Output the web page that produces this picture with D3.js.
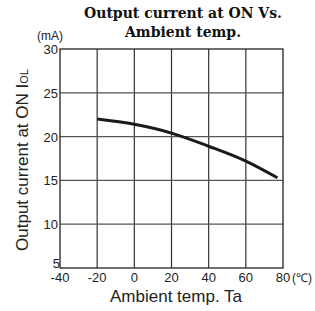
<!doctype html>
<html>
<head>
<script src="https://cdn.jsdelivr.net/npm/d3@7"></script>
<style>
  html, body { margin: 0; padding: 0; background: #fff; }
  svg { display: block; }
  .tick-label { font-family: "Liberation Sans", Arial, sans-serif; font-size: 13px; fill: #222; }
</style>
</head>
<body>
<div id="viz"></div>
<script>
// data
var temps = [-20, 0, 20, 40, 60, 77];
var currents = [22.0, 21.4, 20.4, 18.9, 17.2, 15.3];
var xTicks = [-40, -20, 0, 20, 40, 60, 80];
var yTicks = [5, 10, 15, 20, 25, 30];

var renderChart = function () {
    var w = 315, h = 311;
    var pLeft = 60, pRight = 283, pTop = 49, pBottom = 268;

    var svg = d3.select("#viz").append("svg")
        .attr("width", w)
        .attr("height", h);

    var x = d3.scaleLinear().domain([-40, 80]).range([pLeft, pRight]);
    var y = d3.scaleLinear().domain([5, 30]).range([pBottom, pTop]);

    // grid
    svg.selectAll("line.vgrid")
        .data(xTicks.slice(1, -1))
        .enter().append("line")
        .attr("x1", function (d) { return x(d); })
        .attr("x2", function (d) { return x(d); })
        .attr("y1", pTop).attr("y2", pBottom)
        .attr("stroke", "#333").attr("stroke-width", 1.2);

    svg.selectAll("line.hgrid")
        .data(yTicks.slice(1, -1))
        .enter().append("line")
        .attr("y1", function (d) { return y(d); })
        .attr("y2", function (d) { return y(d); })
        .attr("x1", pLeft).attr("x2", pRight)
        .attr("stroke", "#555").attr("stroke-width", 1.2);

    svg.append("rect")
        .attr("x", pLeft).attr("y", pTop)
        .attr("width", pRight - pLeft).attr("height", pBottom - pTop)
        .attr("fill", "none").attr("stroke", "#222").attr("stroke-width", 1.3);

    // curve
    var line = d3.line()
        .x(function (d, i) { return x(temps[i]); })
        .y(function (d) { return y(d); })
        .curve(d3.curveMonotoneX);

    svg.append("path")
        .datum(currents)
        .attr("d", line)
        .attr("fill", "none")
        .attr("stroke", "#1a1a1a")
        .attr("stroke-width", 3);

    // tick labels
    svg.selectAll("text.xt")
        .data(xTicks)
        .enter().append("text")
        .attr("class", "tick-label")
        .attr("x", function (d) { return x(d); })
        .attr("y", 282)
        .attr("text-anchor", "middle")
        .text(function (d) { return d; });

    svg.append("text")
        .attr("class", "tick-label")
        .attr("x", 292).attr("y", 282)
        .style("font-size", "12px")
        .text("(℃)");

    svg.selectAll("text.yt")
        .data(yTicks)
        .enter().append("text")
        .attr("class", "tick-label")
        .attr("x", function (d) { return d === 5 ? 60 : 58; })
        .attr("y", function (d) { return d === 5 ? y(d) : y(d) + 5; })
        .attr("text-anchor", "end")
        .text(function (d) { return d; });

    svg.append("text")
        .attr("class", "tick-label")
        .attr("x", 50).attr("y", 40)
        .attr("text-anchor", "middle")
        .style("font-size", "12px")
        .text("(mA)");

    // title
    var title = svg.append("text")
        .attr("text-anchor", "middle")
        .style("font-family", "'DejaVu Serif', serif")
        .style("font-weight", "bold")
        .style("font-size", "14px")
        .attr("fill", "#111");
    title.append("tspan").attr("x", 183).attr("y", 18).text("Output current at ON Vs.");
    title.append("tspan").attr("x", 183).attr("y", 37).text("Ambient temp.");

    // axis titles
    svg.append("text")
        .attr("x", 176).attr("y", 302)
        .attr("text-anchor", "middle")
        .style("font-family", "'Liberation Sans', Arial, sans-serif")
        .style("font-size", "17px")
        .attr("fill", "#222")
        .text("Ambient temp.  Ta");

    var yl = svg.append("text")
        .attr("transform", "translate(28,160) rotate(-90)")
        .attr("text-anchor", "middle")
        .style("font-family", "'Liberation Sans', Arial, sans-serif")
        .style("font-size", "17px")
        .attr("fill", "#222");
    yl.append("tspan").text("Output current at ON  I");
    yl.append("tspan").style("font-size", "11px").text("OL");
};

renderChart();
</script>
</body>
</html>
